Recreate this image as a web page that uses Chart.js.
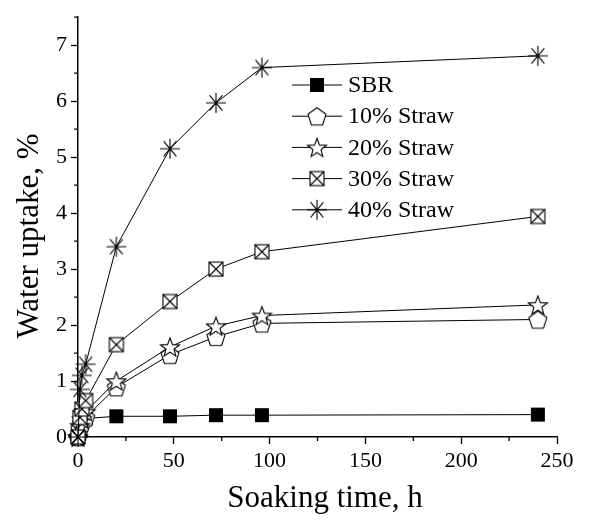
<!DOCTYPE html>
<html>
<head>
<meta charset="utf-8">
<script src="https://cdn.jsdelivr.net/npm/chart.js@4.4.1/dist/chart.umd.min.js"></script>
<style>
  html, body { margin: 0; padding: 0; background: #fff; }
  #wrap { width: 602px; height: 527px; }
</style>
</head>
<body>
<div id="wrap"><canvas id="uptakeChart"></canvas></div>
<script>
/* ===============================
   Data
================================ */
const hours = [0, 1, 2, 4, 20, 48, 72, 96, 240];

const sbr     = [0, 0.20, 0.28, 0.33, 0.37, 0.37, 0.39, 0.39, 0.40];
const straw10 = [0, 0.15, 0.25, 0.35, 0.89, 1.47, 1.79, 2.03, 2.10];
const straw20 = [0, 0.20, 0.32, 0.45, 1.00, 1.61, 1.98, 2.17, 2.36];
const straw30 = [0, 0.35, 0.50, 0.65, 1.65, 2.42, 3.00, 3.31, 3.94];
const straw40 = [0, 0.85, 1.10, 1.30, 3.40, 5.15, 5.97, 6.60, 6.81];

const seriesNames = ["SBR", "10% Straw", "20% Straw", "30% Straw", "40% Straw"];
const xTicks = [0, 50, 100, 150, 200, 250];
const yTicks = [0, 1, 2, 3, 4, 5, 6, 7];

const FONT = "'Liberation Serif', 'Times New Roman', Times, serif";

/* ===============================
   Marker images
================================ */
function makeMarker(kind) {
  const s = 22;
  const c = document.createElement("canvas");
  c.width = s; c.height = s;
  const g = c.getContext("2d");
  const m = s / 2;
  g.strokeStyle = "#000";
  g.fillStyle = "#fff";
  g.lineWidth = 1.1;

  if (kind === "square") {
    g.fillStyle = "#000";
    g.fillRect(m - 7, m - 7, 14, 14);
  } else if (kind === "pentagon") {
    const r = 9.5;
    g.beginPath();
    for (let i = 0; i < 5; i++) {
      const a = -Math.PI / 2 + i * 2 * Math.PI / 5;
      const px = m + r * Math.cos(a), py = m + 1 + r * Math.sin(a);
      i ? g.lineTo(px, py) : g.moveTo(px, py);
    }
    g.closePath(); g.fill(); g.stroke();
  } else if (kind === "star") {
    const ro = 10, ri = 4.2;
    g.beginPath();
    for (let i = 0; i < 10; i++) {
      const a = -Math.PI / 2 + i * Math.PI / 5;
      const r = i % 2 ? ri : ro;
      const px = m + r * Math.cos(a), py = m + 1 + r * Math.sin(a);
      i ? g.lineTo(px, py) : g.moveTo(px, py);
    }
    g.closePath(); g.fill(); g.stroke();
  } else if (kind === "xsquare") {
    g.fillRect(m - 7, m - 7, 14, 14);
    g.strokeRect(m - 7, m - 7, 14, 14);
    g.beginPath();
    g.moveTo(m - 7, m - 7); g.lineTo(m + 7, m + 7);
    g.moveTo(m + 7, m - 7); g.lineTo(m - 7, m + 7);
    g.stroke();
  } else if (kind === "asterisk") {
    const r = 10;
    g.beginPath();
    [90, 0, 50, 130].forEach(d => {
      const a = d * Math.PI / 180;
      g.moveTo(m - r * Math.cos(a), m - r * Math.sin(a));
      g.lineTo(m + r * Math.cos(a), m + r * Math.sin(a));
    });
    g.stroke();
  }
  return c;
}

const markers = ["square", "pentagon", "star", "xsquare", "asterisk"].map(makeMarker);

function toPoints(values) {
  return hours.map((h, i) => ({ x: h, y: values[i] }));
}

const allSeries = [sbr, straw10, straw20, straw30, straw40];

// later series sit on top, as in the original plot
const datasets = allSeries.map((vals, i) => ({
  label: seriesNames[i],
  data: toPoints(vals),
  borderColor: "#000",
  borderWidth: 1,
  tension: 0,
  pointStyle: markers[i],
  pointRadius: 10,
  clip: false,
  order: allSeries.length - 1 - i
}));

/* ===============================
   Minor ticks, titles, legend
================================ */
const extrasPlugin = {
  id: "extras",
  afterDraw(chart) {
    const ctx = chart.ctx;
    const xs = chart.scales.x, ys = chart.scales.y;
    const area = chart.chartArea;
    ctx.save();
    ctx.strokeStyle = "#000";
    ctx.lineWidth = 1.3;

    // minor ticks
    ctx.beginPath();
    for (let v = 25; v < 250; v += 50) {
      const px = xs.getPixelForValue(v);
      ctx.moveTo(px, area.bottom); ctx.lineTo(px, area.bottom + 4);
    }
    for (let v = 0.5; v <= 7.5; v += 1) {
      const py = ys.getPixelForValue(v);
      ctx.moveTo(area.left, py); ctx.lineTo(area.left - 4, py);
    }
    ctx.stroke();

    // axis titles
    ctx.fillStyle = "#000";
    ctx.font = "31px " + FONT;
    ctx.textAlign = "center";
    ctx.textBaseline = "middle";
    ctx.fillText("Soaking time, h", 325, 499);
    ctx.translate(30, 236);
    ctx.rotate(-Math.PI / 2);
    ctx.fillText("Water uptake, %", 0, 0);
    ctx.restore();

    // legend
    ctx.save();
    ctx.font = "24px " + FONT;
    ctx.textAlign = "left";
    ctx.textBaseline = "middle";
    ctx.fillStyle = "#000";
    ctx.strokeStyle = "#000";
    ctx.lineWidth = 1;
    seriesNames.forEach((name, i) => {
      const y = 85 + i * 31.2;
      ctx.beginPath();
      ctx.moveTo(292, y); ctx.lineTo(342, y);
      ctx.stroke();
      const mk = markers[i];
      ctx.drawImage(mk, 317 - mk.width / 2, y - mk.height / 2);
      ctx.fillText(name, 348, y + 1);
    });
    ctx.restore();
  }
};

/* ===============================
   Chart
================================ */
function drawChart() {
  return new Chart(document.getElementById("uptakeChart"), {
    type: "line",
    data: { datasets },
    options: {
      responsive: true,
      maintainAspectRatio: false,
      animation: false,
      layout: { padding: { top: 9, right: 45, left: 0, bottom: 0 } },
      plugins: {
        legend: { display: false },
        tooltip: { enabled: false }
      },
      scales: {
        x: {
          type: "linear",
          min: 0,
          max: 250,
          afterFit: s => { s.height = 90; },
          afterBuildTicks: s => { s.ticks = xTicks.map(v => ({ value: v })); },
          ticks: {
            color: "#000",
            padding: 4,
            font: { family: FONT, size: 22 }
          },
          grid: {
            drawOnChartArea: false,
            tickLength: 7,
            tickWidth: 1.3,
            color: "#000"
          },
          border: { color: "#000", width: 1.5 }
        },
        y: {
          type: "linear",
          min: 0,
          max: 7.5,
          afterFit: s => { s.width = 78; },
          afterBuildTicks: s => { s.ticks = yTicks.map(v => ({ value: v })); },
          ticks: {
            color: "#000",
            padding: 4,
            font: { family: FONT, size: 22 }
          },
          grid: {
            drawOnChartArea: false,
            tickLength: 7,
            tickWidth: 1.3,
            color: "#000"
          },
          border: { color: "#000", width: 1.5 }
        }
      }
    },
    plugins: [extrasPlugin]
  });
}

Promise.all([
  document.fonts.load("22px 'Liberation Serif'"),
  document.fonts.load("31px 'Liberation Serif'")
]).catch(() => {}).then(drawChart);
</script>
</body>
</html>
